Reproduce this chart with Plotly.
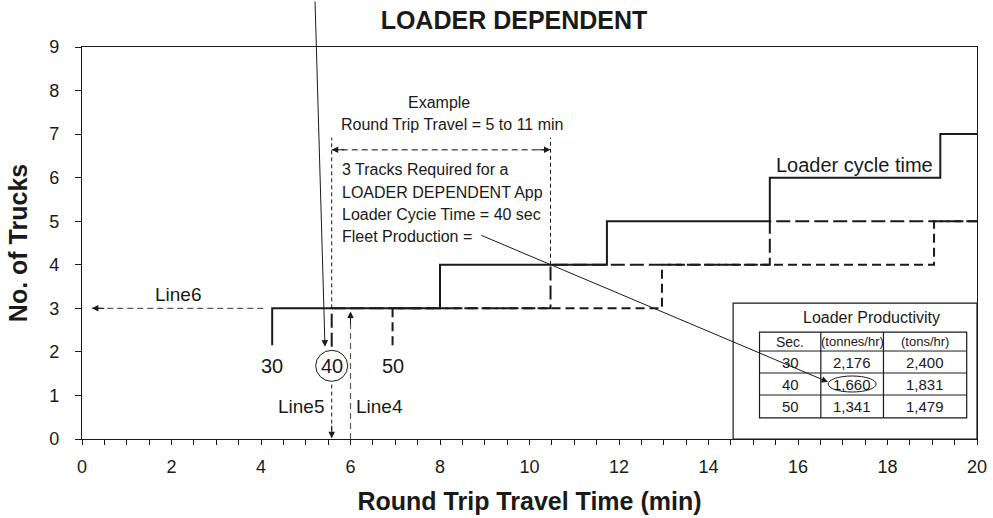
import plotly.graph_objects as go

FONT = "Liberation Sans, Arial, sans-serif"
INK = "#1a1a1a"
GREY = "#5a5a5a"

# Number of trucks required vs. round trip travel time, one stepped line per loader cycle time (sec)
cycle_times = [30, 40, 50]

trucks_30_x = [4.25, 4.25, 8.0, 11.73, 15.37, 19.18, 20.0]
trucks_30_y = [2.15, 3, 4, 5, 6, 7, 7]

trucks_40_x = [5.58, 5.58, 10.47, 15.37, 20.0]
trucks_40_y = [2.12, 3, 4, 5, 5]

trucks_50_x = [6.94, 6.94, 12.96, 19.04, 20.0]
trucks_50_y = [2.15, 3, 4, 5, 5]

# Loader productivity table
prod_sec = [30, 40, 50]
prod_tonnes = [2176, 1660, 1341]
prod_tons = [2400, 1831, 1479]
prod_header = ["Sec.", "(tonnes/hr)", "(tons/hr)"]

x_ticks = [0, 2, 4, 6, 8, 10, 12, 14, 16, 18, 20]
y_ticks = [0, 1, 2, 3, 4, 5, 6, 7, 8, 9]

# worked example: 40 sec loader, travel window bounded by the 40 sec step
example_cycle = 40
example_travel = 6.0
example_trucks = 3

fig = go.Figure()

fig.add_trace(go.Scatter(x=trucks_50_x, y=trucks_50_y, mode="lines", line_shape="hv",
                         line=dict(color=INK, width=2, dash="9px,5px"), hoverinfo="skip"))
fig.add_trace(go.Scatter(x=trucks_40_x, y=trucks_40_y, mode="lines", line_shape="hv",
                         line=dict(color=INK, width=2, dash="14px,5px"), hoverinfo="skip"))
fig.add_trace(go.Scatter(x=trucks_30_x, y=trucks_30_y, mode="lines", line_shape="hv",
                         line=dict(color=INK, width=2), hoverinfo="skip"))

shapes = []
annotations = []


def dashed(x0, y0, x1, y1, color=INK, width=1, dash="4px,3px"):
    shapes.append(dict(type="line", xref="x", yref="y", x0=x0, y0=y0, x1=x1, y1=y1,
                       line=dict(color=color, width=width, dash=dash)))


def head(x, y, ax, ay, color=INK):
    annotations.append(dict(x=x, y=y, xref="x", yref="y", ax=ax, ay=ay, text="",
                            showarrow=True, arrowhead=2, arrowsize=1.3, arrowwidth=1,
                            arrowcolor=color))


def label(x, y, text, size=16, xanchor="center", **kw):
    annotations.append(dict(x=x, y=y, xref="x", yref="y", text=text, showarrow=False,
                            xanchor=xanchor, yanchor="middle",
                            font=dict(size=size, color=INK, family=FONT), **kw))


x_lo = trucks_40_x[0]
x_hi = trucks_40_x[2]
bracket_top = 6.92
bracket_y = 6.64

# travel-time window bracket
dashed(x_lo, trucks_40_y[1], x_lo, bracket_top, dash="4px,3px")
dashed(x_hi, trucks_40_y[2], x_hi, bracket_top, dash="4px,3px")
dashed(x_lo, bracket_y, x_hi, bracket_y, color=GREY, width=1.5, dash="6px,4px")
head(x_lo, bracket_y, 14, 0)
head(x_hi, bracket_y, -14, 0)

# Line6: read across to the truck count
dashed(trucks_30_x[0] - 0.2, example_trucks, 0.22, example_trucks, color=GREY, width=1.2, dash="6px,4px")
head(0.22, example_trucks, 14, 0)
label(2.15, 3.31, "Line6", size=19)

# Line5: drop from the 40 sec step to the travel axis
dashed(x_lo, 1.25, x_lo, 0.02, dash="4px,3px")
head(x_lo, 0.02, 0, -14)
label(x_lo - 0.1, 0.74, "Line5", size=19, xanchor="right")

# Line4: rise from the example travel time
dashed(example_travel, 0, example_travel, 2.93, color=GREY, width=1.2, dash="6px,4px")
head(example_travel, 2.93, 0, 14, color=INK)
label(example_travel + 0.08, 0.74, "Line4", size=19, xanchor="left")

# cycle-time labels at the foot of each step line
starts = [trucks_30_x[0], trucks_40_x[0], trucks_50_x[0]]
for ct, sx in zip(cycle_times, starts):
    label(sx, 1.68, str(ct), size=20)
shapes.append(dict(type="circle", xref="x", yref="y", xsizemode="pixel", ysizemode="pixel",
                   xanchor=starts[cycle_times.index(example_cycle)], yanchor=1.68,
                   x0=-16, x1=16, y0=-15.5, y1=15.5, line=dict(color=INK, width=1)))

# long pointer from above onto the 40 sec start
annotations.append(dict(x=5.43, y=2.12, xref="x", yref="y", ax=-10, ay=-347, text="",
                        showarrow=True, arrowhead=2, arrowsize=1.3, arrowwidth=1, arrowcolor=INK))

# example text block
label(7.98, 7.72, "Example", size=16)
label(8.26, 7.22, "Round Trip Travel = 5 to 11 min", size=16)
block = ["3 Tracks Required for a", "LOADER DEPENDENT App",
         "Loader Cycie Time = 40 sec", "Fleet Production ="]
for i, line in enumerate(block):
    label(5.77, 6.18 - 0.51 * i, line, size=16, xanchor="left")

label(17.27, 6.3, "Loader cycle time", size=20)

# productivity table
box_x0, box_y0, box_x1, box_y1 = 14.55, 0.0, 20.0, 3.12
shapes.append(dict(type="rect", xref="x", yref="y", x0=box_x0, y0=box_y0, x1=box_x1, y1=box_y1,
                   fillcolor="white", line=dict(color=INK, width=1.2), layer="above"))
col_edges = [15.14, 16.51, 17.91, 19.77]
row_edges = [2.456, 2.02, 1.515, 1.01, 0.485]
label(17.65, 2.80, "Loader Productivity", size=16)
shapes.append(dict(type="rect", xref="x", yref="y", x0=col_edges[0], x1=col_edges[-1],
                   y0=row_edges[-1], y1=row_edges[0], line=dict(color=INK, width=1.2)))
for cx in col_edges[1:-1]:
    shapes.append(dict(type="line", xref="x", yref="y", x0=cx, x1=cx,
                       y0=row_edges[-1], y1=row_edges[0], line=dict(color=INK, width=1.2)))
for ry in row_edges[1:-1]:
    shapes.append(dict(type="line", xref="x", yref="y", x0=col_edges[0], x1=col_edges[-1],
                       y0=ry, y1=ry, line=dict(color=INK, width=1)))

col_mid = [(a + b) / 2 for a, b in zip(col_edges[:-1], col_edges[1:])]
row_mid = [(a + b) / 2 for a, b in zip(row_edges[:-1], row_edges[1:])]
for cm, h in zip(col_mid, prod_header):
    label(cm, row_mid[0], h, size=14 if h == "Sec." else 13)
for r, (s, t1, t2) in enumerate(zip(prod_sec, prod_tonnes, prod_tons)):
    ym = row_mid[r + 1]
    label(col_mid[0], ym, str(s), size=15)
    label(col_mid[1], ym, f"{t1:,}", size=15)
    label(col_mid[2], ym, f"{t2:,}", size=15)
    if s == example_cycle:
        shapes.append(dict(type="circle", xref="x", yref="y", xsizemode="pixel", ysizemode="pixel",
                           xanchor=col_mid[1], yanchor=ym, x0=-24, x1=24, y0=-8, y1=8,
                           line=dict(color=INK, width=1)))

# Fleet Production pointer into the table
annotations.append(dict(x=16.67, y=1.31, xref="x", yref="y", ax=8.89, ay=4.69, axref="x", ayref="y",
                        text="", showarrow=True, arrowhead=2, arrowsize=1.3, arrowwidth=1,
                        arrowcolor=INK))

fig.update_layout(
    width=993, height=518,
    margin=dict(l=82, r=16, t=47, b=79),
    plot_bgcolor="white", paper_bgcolor="white",
    showlegend=False,
    font=dict(family=FONT, color=INK, size=16),
    title=dict(text="<b>LOADER DEPENDENT</b>", x=514 / 993, xanchor="center",
               y=1 - 20 / 518, yanchor="middle", font=dict(size=25, color=INK)),
    shapes=shapes,
    annotations=annotations,
)

fig.update_xaxes(
    range=[0, 20], tickvals=x_ticks, ticks="outside", ticklen=5, tickcolor=INK, tickwidth=1,
    showline=True, linecolor=INK, linewidth=1.2, mirror=True, showgrid=False, zeroline=False,
    minor=dict(dtick=0.5, ticks="outside", ticklen=5, tickcolor=INK, showgrid=False),
    tickfont=dict(size=18, color=INK), ticklabelstandoff=6, automargin=False,
    title=dict(text="<b>Round Trip Travel Time (min)</b>", font=dict(size=25, color=INK), standoff=16),
)
fig.update_yaxes(
    range=[0, 9], tickvals=y_ticks, ticks="outside", ticklen=6, tickcolor=INK, tickwidth=1,
    showline=True, linecolor=INK, linewidth=1.2, mirror=True, showgrid=False, zeroline=False,
    tickfont=dict(size=18, color=INK), ticklabelstandoff=12, automargin=False,
    title=dict(text="<b>No. of Trucks</b>", font=dict(size=25, color=INK), standoff=14),
)

fig.write_html("out.html")
